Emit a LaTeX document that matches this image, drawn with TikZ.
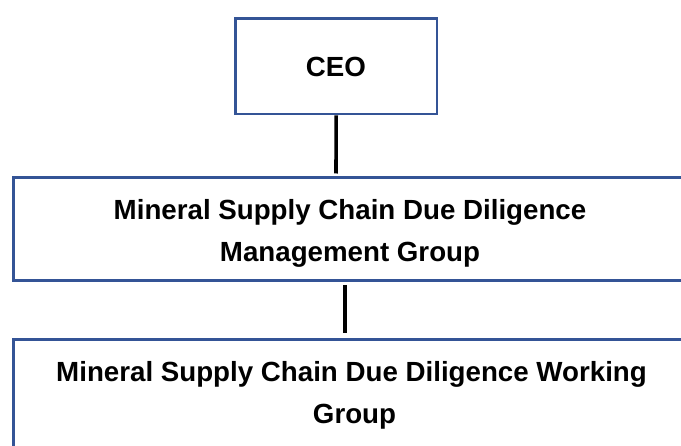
\documentclass[tikz,border=0pt]{standalone}
\usepackage{fontspec}
\setmainfont{Liberation Sans}
\definecolor{boxblue}{RGB}{52,84,150}
\begin{document}
\begin{tikzpicture}[x=1pt,y=-1pt,
  orgbox/.style={draw=boxblue, line width=2.7pt, fill=white, rectangle, inner sep=0pt},
  txt/.style={font=\fontsize{27.7}{42}\selectfont\bfseries, inner sep=0pt, anchor=base, text=black},
  conn/.style={draw=black, line width=3.6pt}]
\useasboundingbox (0,0) rectangle (681,446);
\clip (0,0) rectangle (681,446);
% boxes
\node[orgbox, minimum width=201.5pt, minimum height=95.3pt] (ceo) at (336.2,66.4) {};
\node[orgbox, minimum width=673.7pt, minimum height=102.6pt] (mgmt) at (350.2,229) {};
\node[orgbox, minimum width=678pt, minimum height=140pt] (work) at (352.3,409.7) {};
% texts
\node[txt] (ceot) at (336,77) {CEO};
\node[txt] (m1) at (350,220) {Mineral Supply Chain Due Diligence};
\node[txt] (m2) at (350,262) {Management Group};
\node[txt] (w1) at (351.5,382) {Mineral Supply Chain Due Diligence Working};
\node[txt] (w2) at (354.5,424) {Group};
% connectors
\coordinate (c1b) at (336,173.5);
\coordinate (c2t) at (345,285);
\coordinate (c2b) at (345,333);
\draw[conn] (ceo.south) -- (c1b);
\draw[conn] (c2t) -- (c2b);
\end{tikzpicture}
\end{document}
